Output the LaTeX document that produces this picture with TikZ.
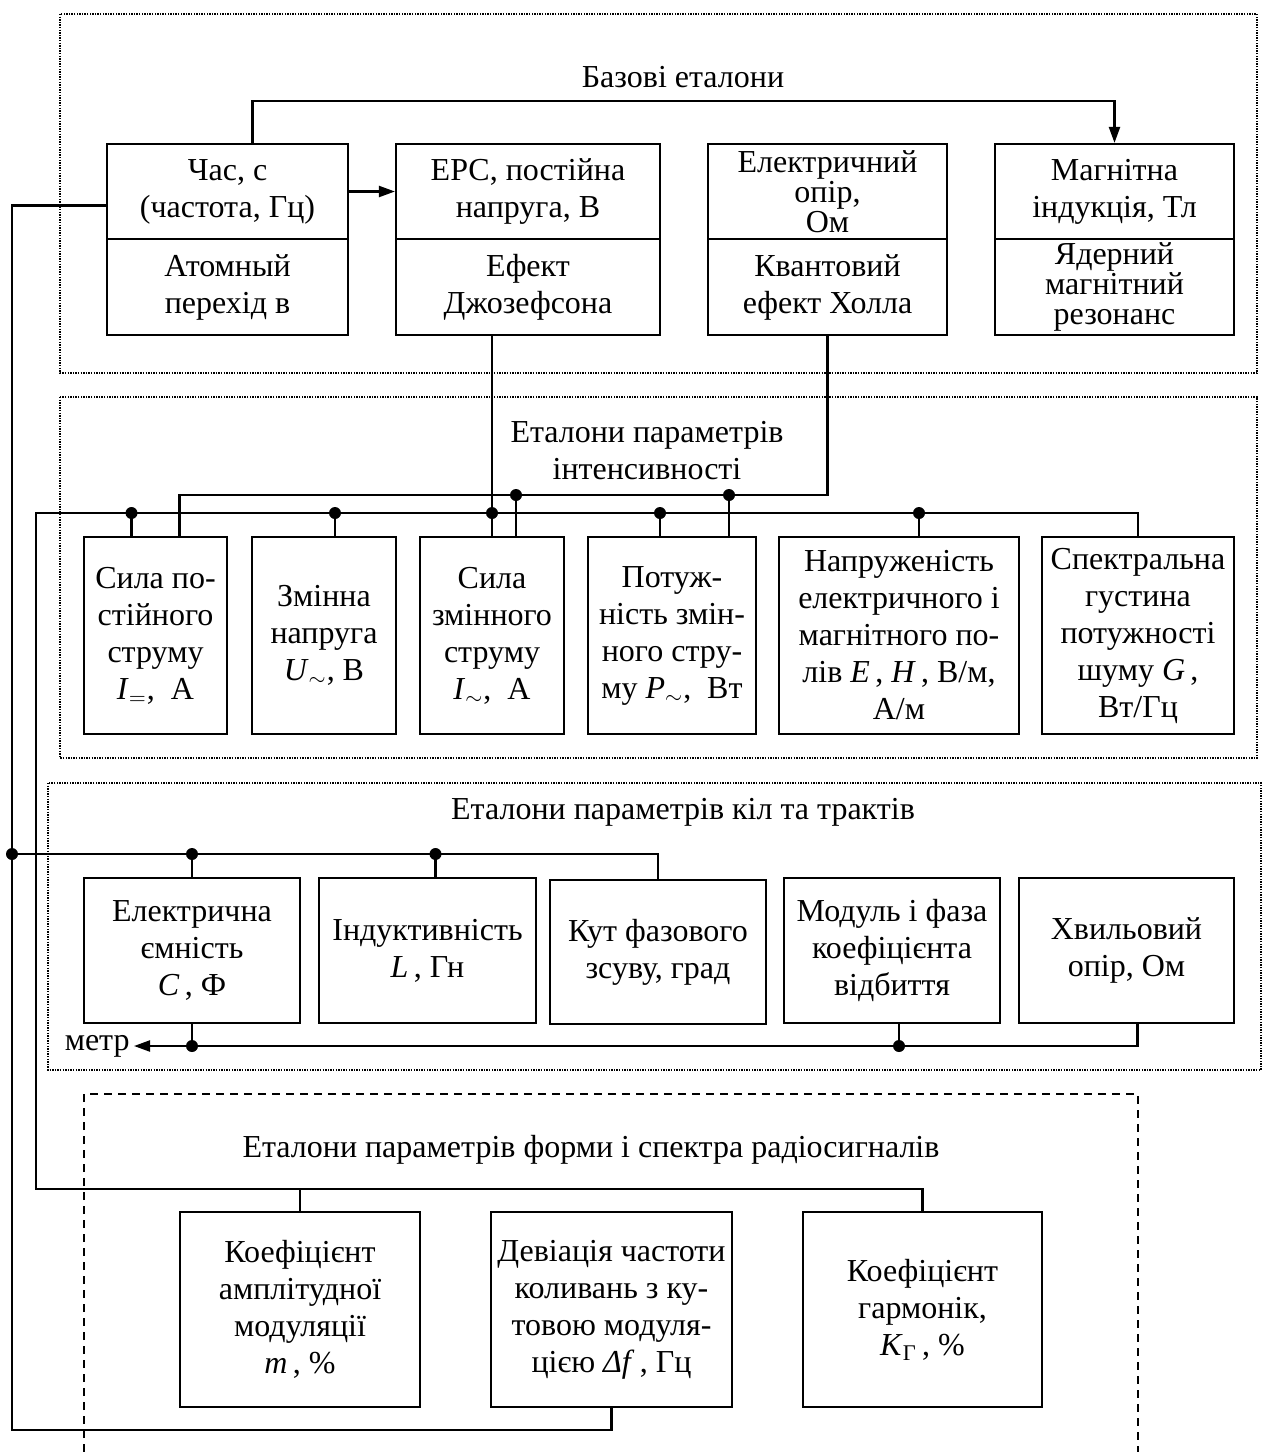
\documentclass[tikz,border=0pt]{standalone}
\usepackage{fontspec}
\setmainfont{Liberation Serif}
\usetikzlibrary{arrows.meta,positioning,calc}

\newcommand{\iv}[1]{\textit{#1}}

\begin{document}
\begin{tikzpicture}[x=0.5pt, y=-0.5pt,
    every node/.style={font=\fontsize{16}{18.5}\selectfont},
    box/.style={rectangle, draw, line width=1.1pt, align=center, inner sep=1pt},
    wire/.style={line width=1.1pt},
    arr/.style={-{Triangle[length=8pt,width=5.5pt]}, line width=1.1pt},
    frame/.style={line width=0.7pt, dash pattern=on 0.7pt off 0.6pt},
    dashframe/.style={line width=0.7pt, dash pattern=on 4pt off 3pt},
    dot/.style={circle, fill, inner sep=0pt, minimum size=6pt}
]
    \useasboundingbox (0,0) rectangle (1262,1452);

    % Frames of the groups
    \draw[frame] (60,14) rectangle (1257,373);
    \draw[frame] (60,397) rectangle (1257,758);
    \draw[frame] (48,783) rectangle (1261,1070);
    \draw[dashframe] (84,1452) |- (1138,1094) -- (1138,1452);

    % Titles
    \node (tbase) at (683,77) {Базові еталони};
    \node[align=center] (tint) at (647,451) {Еталони параметрів\\інтенсивності};
    \node (tcirc) at (683,812) {Еталони параметрів кіл та трактів};
    \node (tform) at (591,1150) {Еталони параметрів форми і спектра радіосигналів};

    % Base standards (two parts each)
    \node[box, minimum width=120.5pt, minimum height=47.5pt] (chas) at (227.5,191.5)
        {Час, с\\(частота, Гц)};
    \node[box, minimum width=120.5pt, minimum height=48pt] (atom) at (227.5,287)
        {Атомный\\перехід в};
    \node[box, minimum width=132pt, minimum height=47.5pt] (ers) at (528,191.5)
        {ЕРС, постійна\\напруга, В};
    \node[box, minimum width=132pt, minimum height=48pt] (jos) at (528,287)
        {Ефект\\Джозефсона};
    \node[box, minimum width=119.5pt, minimum height=47.5pt,
        font=\fontsize{16}{13.5}\selectfont] (opir) at (827.5,191.5)
        {Електричний\\опір,\\Ом};
    \node[box, minimum width=119.5pt, minimum height=48pt] (hall) at (827.5,287)
        {Квантовий\\ефект Холла};
    \node[box, minimum width=119.5pt, minimum height=47.5pt] (magn) at (1114.5,191.5)
        {Магнітна\\індукція, Тл};
    \node[box, minimum width=119.5pt, minimum height=48pt,
        font=\fontsize{16}{15}\selectfont] (nmr) at (1114.5,287)
        {Ядерний\\магнітний\\резонанс};

    % Intensity standards
    \node[box, minimum width=71.5pt, minimum height=98.5pt] (i1) at (155.5,635.5)
        {Сила по-\\стійного\\струму\\\iv{I}$_=$,\ \ А};
    \node[box, minimum width=72pt, minimum height=98.5pt] (i2) at (324,635.5)
        {Змінна\\напруга\\\iv{U}$_\sim$, В};
    \node[box, minimum width=72pt, minimum height=98.5pt] (i3) at (492,635.5)
        {Сила\\змінного\\струму\\\iv{I}$_\sim$,\ \ А};
    \node[box, minimum width=84pt, minimum height=98.5pt] (i4) at (672,635.5)
        {Потуж-\\ність змін-\\ного стру-\\му \iv{P}$_\sim$,\ \ Вт};
    \node[box, minimum width=120pt, minimum height=98.5pt] (i5) at (899,635.5)
        {Напруженість\\електричного і\\магнітного по-\\лів \iv{E}\,, \iv{H}\,, В/м,\\А/м};
    \node[box, minimum width=96pt, minimum height=98.5pt] (i6) at (1138,635.5)
        {Спектральна\\густина\\потужності\\шуму \iv{G}\,,\\Вт/Гц};

    % Circuit standards
    \node[box, minimum width=108pt, minimum height=72.5pt] (c1) at (192,950.5)
        {Електрична\\ємність\\\iv{C}\,, Ф};
    \node[box, minimum width=108.5pt, minimum height=72.5pt] (c2) at (427.5,950.5)
        {Індуктивність\\\iv{L}\,, Гн};
    \node[box, minimum width=108pt, minimum height=72pt] (c3) at (658,952)
        {Кут фазового\\зсуву, град};
    \node[box, minimum width=108pt, minimum height=72.5pt] (c4) at (892,950.5)
        {Модуль і фаза\\коефіцієнта\\відбиття};
    \node[box, minimum width=107.5pt, minimum height=72.5pt] (c5) at (1126.5,950.5)
        {Хвильовий\\опір, Ом};

    % Signal form standards
    \node[box, minimum width=120pt, minimum height=97.5pt] (f1) at (300,1309.5)
        {Коефіцієнт\\амплітудної\\модуляції\\\iv{m}\,, \%};
    \node[box, minimum width=120.5pt, minimum height=97.5pt] (f2) at (611.5,1309.5)
        {Девіація частоти\\коливань з ку-\\товою модуля-\\цією \iv{Δf}\,, Гц};
    \node[box, minimum width=119.5pt, minimum height=97.5pt] (f3) at (922.5,1309.5)
        {Коефіцієнт\\гармонік,\\\iv{K}\textsubscript{Г}\,, \%};

    \node[anchor=east, inner sep=2pt] (metr) at (134,1046) {метр};

    % Bus levels and wire columns
    \coordinate (ub) at (0,495);
    \coordinate (lb) at (0,513);
    \coordinate (cb) at (0,854);
    \coordinate (mb) at (0,1046);
    \coordinate (fb) at (0,1189);
    \coordinate (ob) at (0,1430);
    \coordinate (lw) at (36,0);
    \coordinate (ow) at (12,0);

    % Taps on the boxes
    \coordinate (i1u) at ([xshift=12pt]i1.north);
    \coordinate (i1l) at ([xshift=-12pt]i1.north);
    \coordinate (i2l) at ([xshift=5.5pt]i2.north);
    \coordinate (i3u) at ([xshift=12pt]i3.north);
    \coordinate (i4l) at ([xshift=-6pt]i4.north);
    \coordinate (i4u) at ([xshift=28.5pt]i4.north);
    \coordinate (i5l) at ([xshift=10pt]i5.north);
    \coordinate (c2t) at ([xshift=4pt]c2.north);
    \coordinate (c4b) at ([xshift=3.5pt]c4.south);

    % Base standards
    \draw[arr] ([xshift=12.5pt]chas.north) -- ++(0,-42) -| (magn.north);
    \draw[arr] (chas) -- (ers);

    % Upper bus from the Hall effect
    \draw[wire] (hall.south) |- (i1u |- ub) -- (i1u);
    \foreach \t in {i3u, i4u}
        \draw[wire] (\t |- ub) node[dot] {} -- (\t);

    % Lower bus from the Josephson effect
    \draw[wire] (jos.south -| i3.north) -- (i3.north);
    \draw[wire] (i6.north) |- (lw |- lb) |- (f3.north |- fb) -- (f3.north);
    \foreach \t in {i1l, i2l, i3.north, i4l, i5l}
        \draw[wire] (\t |- lb) node[dot] {} -- (\t);
    \draw[wire] (f1.north) -- (f1.north |- fb);

    % Time and frequency wire
    \draw[wire] ([yshift=-7pt]chas.west) -| (ow |- ob) -| (f2.south);
    \draw[wire] (ow |- cb) node[dot] {} -| (c3.north);
    \draw[wire] (c1.north) -- (c1.north |- cb) node[dot] {};
    \draw[wire] (c2t) -- (c2t |- cb) node[dot] {};

    % To the metre
    \draw[arr] ([xshift=5.5pt]c5.south) |- (metr.east);
    \draw[wire] (c1.south) -- (c1.south |- mb) node[dot] {};
    \draw[wire] (c4b) -- (c4b |- mb) node[dot] {};
\end{tikzpicture}
\end{document}
